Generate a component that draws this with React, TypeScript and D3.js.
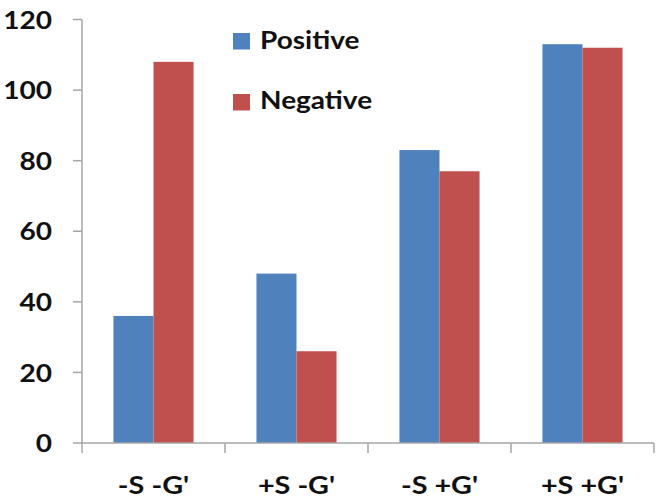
import React from "react";
import * as d3 from "d3";

const categories = ["-S -G'", "+S -G'", "-S +G'", "+S +G'"];
const seriesNames = ["Positive", "Negative"];
const positiveValues = [36, 48, 83, 113];
const negativeValues = [108, 26, 77, 112];
const yTicks = [0, 20, 40, 60, 80, 100, 120];
const colors = ["#4F81BD", "#C0504D"];

const W = 661;
const H = 502;
const left = 82;
const right = 654;
const top = 19.5;
const bottom = 443;
const FONT = "Lato, 'Open Sans', sans-serif";
const SX = 1.17;

export default function App() {
  const x = d3.scaleBand<string>().domain(categories).range([left, right]).paddingInner(0.44).paddingOuter(0.22);
  const x1 = d3.scaleBand<string>().domain(seriesNames).range([0, x.bandwidth()]);
  const y = d3.scaleLinear().domain([0, 120]).range([bottom, top]);
  const series = [positiveValues, negativeValues];
  const step = x.step();
  const boundaries = d3.range(categories.length + 1).map((i) => left + i * step);
  const axisColor = "#A6A6A6";

  return (
    <svg width={W} height={H} style={{ position: "fixed", left: 0, top: 0, background: "#fff" }}>
      <rect x={0} y={0} width={W} height={H} fill="#fff" />
      {series.map((vals, si) =>
        vals.map((v, ci) => (
          <rect
            key={`${si}-${ci}`}
            x={(x(categories[ci]) as number) + (x1(seriesNames[si]) as number)}
            y={y(v)}
            width={x1.bandwidth()}
            height={y(0) - y(v)}
            fill={colors[si]}
          />
        ))
      )}
      {/* y axis */}
      <line x1={left} x2={left} y1={y(120)} y2={y(0)} stroke={axisColor} strokeWidth={1.5} />
      {yTicks.map((t) => (
        <g key={t}>
          <line x1={left - 9} x2={left} y1={y(t)} y2={y(t)} stroke={axisColor} strokeWidth={1.5} />
          <text
            transform={`translate(52,${y(t)}) scale(${SX},1)`}
            textAnchor="end"
            dominantBaseline="central"
            fontFamily={FONT}
            fontWeight="bold"
            fontSize={24}
            fill="#111"
          >
            {t}
          </text>
        </g>
      ))}
      {/* x axis */}
      <line x1={left} x2={right} y1={y(0)} y2={y(0)} stroke={axisColor} strokeWidth={1.5} />
      {boundaries.map((b, i) => (
        <line key={i} x1={b} x2={b} y1={y(0)} y2={y(0) + 10} stroke={axisColor} strokeWidth={1.5} />
      ))}
      {categories.map((c) => (
        <text
          key={c}
          transform={`translate(${(x(c) as number) + x.bandwidth() / 2},494) scale(${SX + 0.03},1)`}
          textAnchor="middle"
          fontFamily={FONT}
          fontWeight="bold"
          fontSize={24}
          fill="#111"
        >
          {c}
        </text>
      ))}
      {/* legend */}
      {seriesNames.map((s, i) => (
        <g key={s}>
          <rect x={233} y={33 + i * 61} width={17} height={16.5} fill={colors[i]} />
          <text
            transform={`translate(260,${49 + i * 60}) scale(1.12,1)`}
            fontFamily={FONT}
            fontWeight="bold"
            fontSize={25}
            fill="#111"
          >
            {s}
          </text>
        </g>
      ))}
    </svg>
  );
}
